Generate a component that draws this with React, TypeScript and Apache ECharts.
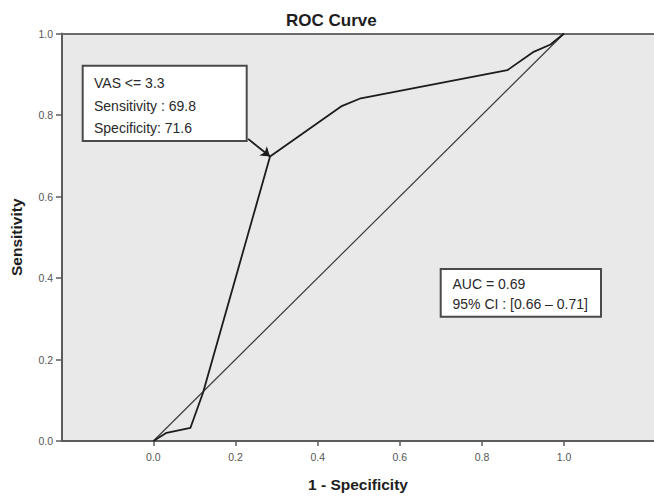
import React, { useEffect, useRef } from "react";
import * as echarts from "echarts";

// ROC curve points: x = 1 - specificity, y = sensitivity
const oneMinusSpec = [0, 0.032, 0.09, 0.121, 0.284, 0.457, 0.505, 0.862, 0.926, 0.967, 1];
const sensitivity = [0, 0.02, 0.032, 0.119, 0.698, 0.821, 0.841, 0.91, 0.955, 0.973, 1];
// reference diagonal
const diagX = [0, 1];
const diagY = [0, 1];
// tick labels
const xTicks = [0, 0.2, 0.4, 0.6, 0.8, 1.0];
const yTicks = [0, 0.2, 0.4, 0.6, 0.8, 1.0];
// optimal cutoff
const cutoffPoint = [0.284, 0.698];
const arrowStart = [0.2306, 0.7414];
const cutoffLines = ["VAS <= 3.3", "Sensitivity : 69.8", "Specificity: 71.6"];
const aucLines = ["AUC = 0.69", "95% CI : [0.66 \u2013 0.71]"];

const X_MIN = -0.2226;
const X_MAX = 1.219;

export default function App() {
  const ref = useRef<HTMLDivElement>(null);
  useEffect(() => {
    if (!ref.current) return;
    const chart = echarts.init(ref.current, null, { renderer: "svg" });
    const axisColor = "#5c5c5c";
    const font = '"Liberation Sans", Arial, sans-serif';
    const boxText = (t: string, x: number, y: number) => ({
      type: "text",
      x,
      y,
      style: { text: t, fill: "#2a2a2a", fontSize: 14, fontFamily: font, verticalAlign: "middle", align: "left" },
    });
    chart.setOption({
      animation: false,
      backgroundColor: "#ffffff",
      title: {
        text: "ROC Curve",
        left: 286,
        top: 12,
        padding: 0,
        textStyle: { fontSize: 17, fontWeight: "bold", color: "#1e1e1e", fontFamily: font },
      },
      grid: {
        left: 59.3,
        top: 33.5,
        bottom: 51.3,
        right: 0,
        show: true,
        backgroundColor: "#e9e9e9",
        borderWidth: 0,
      },
      xAxis: [
        {
          type: "value",
          min: X_MIN,
          max: X_MAX,
          position: "bottom",
          axisLine: { show: true, onZero: false, lineStyle: { color: axisColor, width: 2 } },
          axisTick: { show: true, customValues: xTicks, length: 5, lineStyle: { color: axisColor, width: 1.5 } },
          axisLabel: {
            customValues: xTicks,
            formatter: (v: number) => v.toFixed(1),
            fontSize: 10.5,
            color: "#555",
            fontFamily: font,
            margin: 10,
          },
          splitLine: { show: false },
          name: "1 - Specificity",
          nameLocation: "middle",
          nameGap: 35,
          nameTextStyle: { fontSize: 15.5, fontWeight: "bold", color: "#1e1e1e", fontFamily: font },
        },
        {
          type: "value",
          min: X_MIN,
          max: X_MAX,
          position: "top",
          axisLine: { show: true, onZero: false, lineStyle: { color: "#6a6a6a", width: 2 } },
          axisTick: { show: false },
          axisLabel: { show: false },
          splitLine: { show: false },
        },
      ],
      yAxis: {
        type: "value",
        min: 0,
        max: 1,
        interval: 0.2,
        axisLine: { show: true, onZero: false, lineStyle: { color: axisColor, width: 2 } },
        axisTick: { show: true, customValues: yTicks, length: 6, lineStyle: { color: axisColor, width: 1.5 } },
        axisLabel: {
          customValues: yTicks,
          formatter: (v: number) => v.toFixed(1),
          fontSize: 10.5,
          color: "#555",
          fontFamily: font,
          margin: 9,
        },
        splitLine: { show: false },
        name: "Sensitivity",
        nameLocation: "middle",
        nameGap: 38,
        nameRotate: 90,
        nameTextStyle: { fontSize: 15.5, fontWeight: "bold", color: "#1e1e1e", fontFamily: font },
      },
      series: [
        {
          type: "line",
          data: diagX.map((x, i) => [x, diagY[i]]),
          symbol: "none",
          lineStyle: { color: "#3a3a3a", width: 1.2 },
          z: 2,
        },
        {
          type: "line",
          data: oneMinusSpec.map((x, i) => [x, sensitivity[i]]),
          symbol: "none",
          lineStyle: { color: "#1c1c1c", width: 1.8 },
          z: 3,
          markLine: {
            silent: true,
            symbol: ["none", "arrow"],
            symbolSize: 9,
            label: { show: false },
            lineStyle: { color: "#1c1c1c", width: 1.8, type: "solid" },
            data: [[{ coord: arrowStart }, { coord: cutoffPoint }]],
          },
        },
      ],
      graphic: [
        {
          type: "group",
          z: 10,
          children: [
            {
              type: "rect",
              shape: { x: 82.7, y: 65.7, width: 164, height: 75.3 },
              style: { fill: "#ffffff", stroke: "#4a4a4a", lineWidth: 2 },
            },
            boxText(cutoffLines[0], 94, 83),
            boxText(cutoffLines[1], 94, 105.5),
            boxText(cutoffLines[2], 94, 127.5),
          ],
        },
        {
          type: "group",
          z: 10,
          children: [
            {
              type: "rect",
              shape: { x: 440.7, y: 269, width: 160.3, height: 47.7 },
              style: { fill: "#ffffff", stroke: "#4a4a4a", lineWidth: 2 },
            },
            boxText(aucLines[0], 452.5, 283.5),
            boxText(aucLines[1], 452.5, 303.5),
          ],
        },
      ],
    });
    return () => chart.dispose();
  }, []);
  return (
    <div
      ref={ref}
      style={{ position: "absolute", left: 0, top: 0, width: 654, height: 497 }}
    />
  );
}
